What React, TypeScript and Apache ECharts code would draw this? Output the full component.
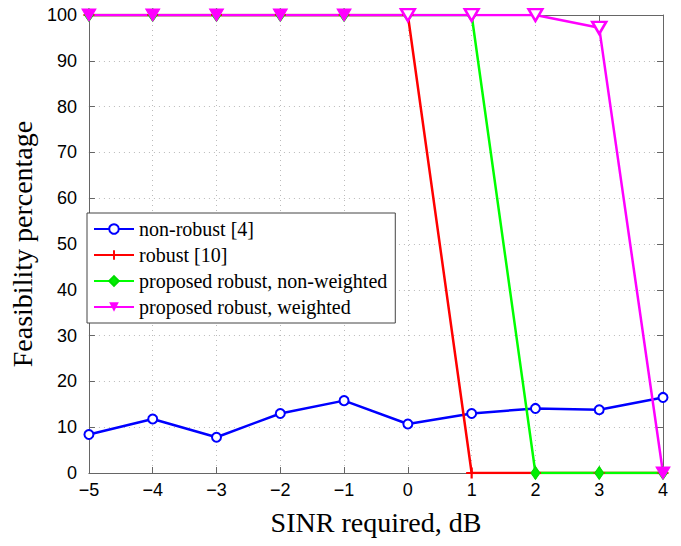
import React, { useEffect, useRef } from "react";
import * as echarts from "echarts";

const xValues = [-5, -4, -3, -2, -1, 0, 1, 2, 3, 4];
const nonRobust = [8.4, 11.8, 7.8, 13.0, 15.8, 10.7, 13.0, 14.1, 13.8, 16.5];
const robust = [100, 100, 100, 100, 100, 100, 0, 0, 0, 0];
const proposedNonWeighted = [100, 100, 100, 100, 100, 100, 100, 0, 0, 0];
const proposedWeighted = [100, 100, 100, 100, 100, 100, 100, 100, 97.2, 0];
const weightedHollow = [false, false, false, false, false, true, true, true, true, false];

const seriesNames = [
  "non-robust [4]",
  "robust [10]",
  "proposed robust, non-weighted",
  "proposed robust, weighted",
];

const pair = (ys: number[]) => xValues.map((x, i) => [x, ys[i]]);

export default function App() {
  const ref = useRef<HTMLDivElement>(null);
  useEffect(() => {
    if (!ref.current) return;
    const chart = echarts.init(ref.current, null, { renderer: "svg" });
    const tickFont = { fontFamily: "Liberation Sans", fontSize: 18, color: "#000" };
    const axisLine = { show: true, onZero: false, lineStyle: { color: "#666", width: 1 } };
    const split = { show: true, lineStyle: { color: "#bbb", type: [1, 4] as any, width: 1 } };
    const tick = { show: true, inside: true, length: 6, lineStyle: { color: "#666" } };
    const minus = (v: number) => String(v).replace("-", "\u2212");
    chart.setOption({
      animation: false,
      backgroundColor: "#fff",
      grid: { left: 84, right: 18, top: 15, bottom: 73, containLabel: false },
      legend: {
        orient: "vertical",
        left: 87,
        top: 213,
        data: seriesNames.map((n, i) =>
          i === 3 ? { name: n, itemStyle: { color: "#ff00ff", borderColor: "#ff00ff" } } : { name: n }
        ),
        itemWidth: 40,
        itemHeight: 12,
        itemGap: 6,
        padding: [6, 8, 6, 6],
        backgroundColor: "#fff",
        borderColor: "#444",
        borderWidth: 1,
        borderRadius: 0,
        textStyle: { fontFamily: "Liberation Serif", fontSize: 20, color: "#000" },
      },
      xAxis: [
        {
          type: "value",
          min: -5,
          max: 4,
          interval: 1,
          name: "SINR required, dB",
          nameLocation: "middle",
          nameGap: 35,
          nameTextStyle: { fontFamily: "Liberation Serif", fontSize: 28, color: "#000" },
          axisLine,
          axisTick: tick,
          axisLabel: { ...tickFont, margin: 8, formatter: minus },
          splitLine: split,
        },
        {
          type: "value",
          position: "top",
          min: -5,
          max: 4,
          interval: 1,
          axisLine,
          axisTick: tick,
          axisLabel: { show: false },
          splitLine: { show: false },
        },
      ],
      yAxis: [
        {
          type: "value",
          min: 0,
          max: 100,
          interval: 10,
          name: "Feasibility percentage",
          nameLocation: "middle",
          nameGap: 44,
          nameTextStyle: { fontFamily: "Liberation Serif", fontSize: 28, color: "#000" },
          axisLine,
          axisTick: tick,
          axisLabel: { ...tickFont, margin: 12 },
          splitLine: split,
        },
        {
          type: "value",
          position: "right",
          min: 0,
          max: 100,
          interval: 10,
          axisLine,
          axisTick: tick,
          axisLabel: { show: false },
          splitLine: { show: false },
        },
      ],
      series: [
        {
          name: seriesNames[0],
          type: "line",
          data: pair(nonRobust),
          symbol: "circle",
          symbolSize: 9,
          showAllSymbol: true,
          lineStyle: { color: "#0000ff", width: 2.5 },
          itemStyle: { color: "#fff", borderColor: "#0000ff", borderWidth: 2 },
        },
        {
          name: seriesNames[1],
          type: "line",
          data: pair(robust),
          symbol: "path://M4,0H6V4H10V6H6V10H4V6H0V4H4Z",
          symbolSize: 11,
          showAllSymbol: true,
          lineStyle: { color: "#ff0000", width: 2.5 },
          itemStyle: { color: "#ff0000", borderWidth: 0 },
        },
        {
          name: seriesNames[2],
          type: "line",
          data: pair(proposedNonWeighted),
          symbol: "diamond",
          symbolSize: [9, 13],
          showAllSymbol: true,
          lineStyle: { color: "#00ff00", width: 2.5 },
          itemStyle: { color: "#00ee00", borderColor: "#00dd00", borderWidth: 1 },
        },
        {
          name: seriesNames[3],
          type: "line",
          data: xValues.map((x, i) => ({
            value: [x, proposedWeighted[i]],
            itemStyle: weightedHollow[i]
              ? { color: "#fff", borderColor: "#ff00ff", borderWidth: 2.5 }
              : { color: "#ff00ff", borderColor: "#ff00ff", borderWidth: 1 },
          })),
          symbol: "path://M0,0L20,0L10,17Z",
          symbolSize: [14, 12],
          showAllSymbol: true,
          lineStyle: { color: "#ff00ff", width: 2.5 },
          itemStyle: { color: "#ff00ff", borderColor: "#ff00ff" },
        },
      ],
    });
    return () => chart.dispose();
  }, []);
  return <div ref={ref} style={{ width: 681, height: 546, margin: -8 }} />;
}
